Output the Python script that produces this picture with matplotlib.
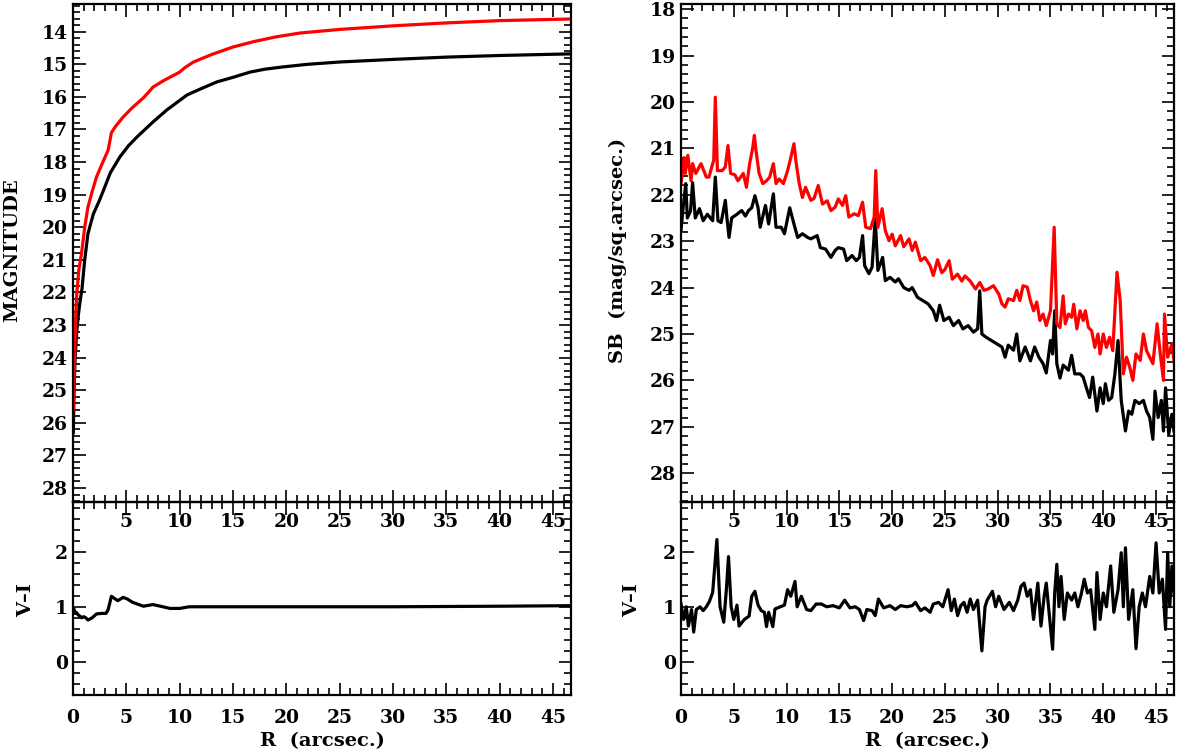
import matplotlib
matplotlib.use("Agg")
import matplotlib.pyplot as plt
from matplotlib.ticker import MultipleLocator, FuncFormatter

plt.rcParams["font.family"] = ["DejaVu Serif"]
plt.rcParams["font.weight"] = "bold"

# ── left: growth curves (cumulative magnitude) ───────────────────────────────
grow_r_v = [0.03, 0.1, 0.2, 0.35, 0.5, 0.65, 0.84, 1.1, 1.4, 1.9, 2.5, 3.0, 3.5,
            4.4, 5.2, 6.0, 7.5, 8.8, 10.7, 12.0, 13.5, 15.0, 16.6, 18.0, 19.7,
            22.0, 25.0, 30.0, 35.0, 40.0, 46.7]
grow_v = [26.3, 25.0, 24.0, 23.2, 22.7, 22.3, 21.9, 21.0, 20.2, 19.6, 19.16, 18.75,
          18.33, 17.84, 17.5, 17.23, 16.77, 16.40, 15.94, 15.75, 15.54, 15.40,
          15.24, 15.15, 15.08, 15.0, 14.93, 14.85, 14.78, 14.73, 14.68]

grow_r_i = [0.03, 0.1, 0.18, 0.25, 0.36, 0.55, 0.8, 1.1, 1.4, 1.8, 2.2, 2.8, 3.3,
            3.6, 4.0, 4.7, 5.5, 6.6, 7.1, 7.5, 8.5, 10.0, 10.5, 11.3, 13.0, 15.0,
            17.0, 19.0, 21.3, 25.0, 30.0, 35.0, 40.0, 46.7]
grow_i = [25.6, 24.6, 23.6, 22.8, 22.0, 21.3, 20.8, 20.0, 19.38, 18.9, 18.46,
          18.0, 17.63, 17.1, 16.9, 16.62, 16.35, 16.03, 15.85, 15.7, 15.5, 15.24,
          15.1, 14.93, 14.7, 14.47, 14.3, 14.16, 14.04, 13.93, 13.82, 13.73,
          13.66, 13.61]

colour_r_left = [0.1, 0.2, 0.3, 0.5, 0.65, 0.8, 1.0, 1.2, 1.4, 1.8, 2.2, 2.7, 3.1,
                 3.3, 3.6, 3.9, 4.2, 4.7, 5.1, 5.6, 6.6, 7.5, 8.2, 9.1, 10.0,
                 10.9, 15.0, 20.0, 30.0, 40.0, 46.7]
colour_left = [0.95, 0.88, 0.9, 0.85, 0.83, 0.8, 0.82, 0.8, 0.76, 0.8, 0.87, 0.88,
               0.88, 0.95, 1.19, 1.15, 1.11, 1.17, 1.14, 1.08, 1.01, 1.04, 1.01,
               0.97, 0.97, 1.0, 1.0, 1.0, 1.0, 1.01, 1.02]

# ── right: surface brightness profiles ───────────────────────────────────────
sb_r_i = [0.0, 0.3, 0.4, 0.65, 0.95, 1.1, 1.4, 1.9, 2.4, 2.65, 3.0, 3.1, 3.25,
          3.45, 3.9, 4.2, 4.45, 4.7, 5.1, 5.4, 5.9, 6.2, 6.5, 6.8, 6.95, 7.1,
          7.4, 7.75, 8.1, 8.4, 8.75, 9.0, 9.3, 9.7, 10.1, 10.4, 10.7, 10.9, 11.2,
          11.5, 11.8, 12.3, 12.6, 13.0, 13.4, 13.85, 14.2, 14.6, 14.9, 15.3, 15.6,
          15.9, 16.4, 16.8, 17.2, 17.5, 17.95, 18.3, 18.45, 18.65, 19.05, 19.35,
          19.7, 20.0, 20.3, 20.8, 21.1, 21.6, 21.9, 22.2, 22.7, 23.1, 23.6, 23.9,
          24.3, 24.7, 25.0, 25.4, 25.7, 26.2, 26.6, 26.9, 27.4, 27.9, 28.3, 28.7,
          29.1, 29.6, 30.1, 30.4, 30.7, 31.0, 31.5, 31.8, 32.1, 32.4, 32.8, 33.1,
          33.4, 33.7, 34.0, 34.3, 34.6, 35.0, 35.35, 35.6, 35.9, 36.2, 36.4, 36.7,
          37.0, 37.2, 37.5, 37.8, 38.1, 38.3, 38.6, 38.9, 39.2, 39.5, 39.7, 40.0,
          40.3, 40.6, 40.9, 41.3, 41.6, 41.9, 42.2, 42.5, 42.8, 43.1, 43.5, 43.8,
          44.1, 44.4, 44.7, 45.1, 45.4, 45.7, 45.8, 46.1, 46.5, 46.7]
sb_i = [21.76, 21.2, 21.54, 21.15, 21.7, 21.33, 21.54, 21.33, 21.62, 21.62, 21.33,
        21.26, 19.9, 21.48, 21.48, 21.4, 20.94, 21.54, 21.57, 21.7, 21.54, 21.84,
        21.33, 20.98, 20.72, 21.04, 21.54, 21.76, 21.7, 21.62, 21.33, 21.76,
        21.66, 21.76, 21.48, 21.2, 20.9, 21.3, 21.76, 22.06, 21.84, 22.12, 22.08,
        21.8, 22.2, 22.13, 22.34, 22.27, 22.09, 22.23, 22.02, 22.48, 22.41, 22.45,
        22.16, 22.7, 22.73, 22.48, 21.48, 22.7, 22.3, 22.77, 22.99, 22.85, 23.1,
        22.88, 23.12, 22.95, 23.2, 23.02, 23.42, 23.35, 23.53, 23.74, 23.4, 23.68,
        23.61, 23.42, 23.82, 23.71, 23.86, 23.75, 23.86, 24.03, 23.89, 24.06,
        24.03, 23.96, 24.14, 24.35, 24.42, 24.24, 24.28, 24.06, 24.28, 23.96,
        23.99, 24.28, 24.5, 24.31, 24.71, 24.57, 24.82, 24.5, 22.7, 24.78, 24.86,
        24.18, 24.78, 24.57, 24.64, 24.36, 24.89, 24.5, 24.71, 24.5, 24.86, 24.93,
        25.29, 25.0, 25.43, 25.0, 25.29, 25.07, 25.36, 23.67, 24.28, 25.86, 25.5,
        25.71, 26.0, 25.43, 25.57, 25.0, 25.36, 25.5, 25.64, 24.78, 25.43, 26.0,
        24.57, 25.5, 25.22, 25.57]

sb_r_v = [0.0, 0.2, 0.45, 0.6, 0.9, 1.1, 1.35, 1.75, 2.1, 2.5, 3.0, 3.25, 3.5, 3.8,
          4.2, 4.35, 4.55, 4.8, 5.3, 5.75, 6.1, 6.4, 6.7, 7.0, 7.3, 7.5, 8.0, 8.3,
          8.75, 9.0, 9.5, 9.8, 10.3, 10.7, 11.05, 11.5, 12.0, 12.3, 12.9, 13.2,
          13.7, 14.2, 14.6, 14.9, 15.4, 15.7, 16.2, 16.6, 16.9, 17.2, 17.4, 17.8,
          18.1, 18.4, 18.65, 19.1, 19.35, 19.8, 20.3, 20.6, 21.1, 21.6, 21.9, 22.4,
          22.9, 23.4, 23.9, 24.2, 24.5, 24.9, 25.4, 25.8, 26.3, 26.7, 27.2, 27.7,
          28.1, 28.3, 28.5, 28.9, 29.4, 29.9, 30.4, 30.7, 31.0, 31.5, 31.8, 32.1,
          32.6, 33.1, 33.5, 33.9, 34.3, 34.6, 35.0, 35.2, 35.4, 35.6, 35.9, 36.2,
          36.7, 37.0, 37.3, 37.8, 38.1, 38.4, 38.7, 39.0, 39.4, 39.7, 40.0, 40.2,
          40.5, 40.8, 41.1, 41.4, 41.7, 42.1, 42.4, 42.7, 43.0, 43.4, 43.8, 44.1,
          44.4, 44.7, 44.9, 45.2, 45.5, 45.7, 45.9, 46.2, 46.5, 46.7]
sb_v = [22.77, 22.28, 21.76, 22.5, 22.35, 21.74, 22.5, 22.3, 22.56, 22.42, 22.56,
        21.62, 22.56, 22.6, 22.12, 22.5, 22.92, 22.5, 22.42, 22.34, 22.46, 22.34,
        22.28, 22.02, 22.28, 22.7, 22.23, 22.63, 21.98, 22.7, 22.7, 22.84, 22.28,
        22.63, 22.92, 22.84, 22.92, 22.95, 22.88, 23.14, 23.17, 23.35, 23.2, 23.14,
        23.17, 23.42, 23.31, 23.42, 23.35, 22.88, 23.53, 23.7, 23.56, 22.52, 23.63,
        23.35, 23.85, 23.78, 23.88, 23.81, 24.0, 24.06, 24.0, 24.21, 24.28, 24.35,
        24.5, 24.71, 24.38, 24.71, 24.64, 24.82, 24.71, 24.89, 24.82, 24.96, 24.89,
        24.07, 25.0, 25.07, 25.14, 25.21, 25.28, 25.5, 25.24, 25.35, 25.0, 25.58,
        25.28, 25.58, 25.28, 25.5, 25.64, 25.84, 25.14, 25.43, 24.5, 25.64, 25.95,
        25.67, 25.78, 25.46, 25.86, 25.86, 25.93, 26.16, 26.37, 25.93, 26.66,
        26.16, 26.5, 26.07, 26.43, 26.37, 25.86, 25.14, 26.43, 27.09, 26.66, 26.73,
        26.43, 26.5, 26.43, 26.66, 26.8, 27.27, 26.23, 26.8, 26.43, 27.09, 26.16,
        27.16, 26.73, 27.09]

colour_r_right = [0.0, 0.25, 0.5, 0.7, 1.0, 1.2, 1.45, 1.8, 2.1, 2.4, 2.7, 3.0, 3.4,
                  3.7, 4.05, 4.3, 4.5, 4.75, 5.0, 5.3, 5.5, 6.0, 6.45, 6.7, 7.0, 7.3,
                  7.6, 7.9, 8.1, 8.3, 8.7, 8.9, 9.4, 9.8, 10.1, 10.4, 10.8, 11.0,
                  11.4, 11.9, 12.3, 12.8, 13.3, 13.8, 14.4, 15.0, 15.5, 16.0, 16.5,
                  16.9, 17.3, 17.6, 18.1, 18.4, 18.7, 19.2, 19.8, 20.3, 20.8, 21.4,
                  21.9, 22.2, 22.7, 23.1, 23.6, 23.9, 24.4, 24.8, 25.3, 25.6, 25.9,
                  26.2, 26.5, 26.8, 27.1, 27.4, 27.7, 28.1, 28.5, 28.8, 29.0, 29.5,
                  29.8, 30.1, 30.6, 31.1, 31.5, 31.9, 32.2, 32.5, 32.8, 33.1, 33.4,
                  33.8, 34.1, 34.4, 34.6, 35.2, 35.4, 35.6, 35.8, 36.0, 36.3, 36.6,
                  37.0, 37.3, 37.6, 37.9, 38.2, 38.5, 38.8, 39.2, 39.4, 39.7, 40.0,
                  40.3, 40.7, 41.0, 41.4, 41.7, 41.9, 42.1, 42.4, 42.8, 43.1, 43.4,
                  43.7, 44.0, 44.4, 44.7, 45.0, 45.3, 45.6, 45.9, 46.1, 46.3, 46.5,
                  46.7]
colour_right = [1.05, 0.77, 1.0, 0.65, 0.95, 0.54, 0.95, 1.0, 0.93, 1.0, 1.1, 1.26,
                2.22, 1.0, 0.72, 1.32, 1.91, 1.0, 0.77, 1.03, 0.65, 0.77, 0.83,
                1.19, 1.28, 1.03, 0.93, 0.9, 0.64, 0.9, 0.64, 0.96, 1.0, 1.03, 1.31,
                1.19, 1.46, 1.0, 1.19, 0.95, 0.93, 1.05, 1.05, 1.0, 1.02, 0.98,
                1.12, 0.98, 1.0, 0.95, 0.75, 0.95, 0.93, 0.84, 1.14, 0.98, 1.02,
                0.95, 1.02, 1.0, 1.02, 1.08, 0.93, 0.98, 0.9, 1.05, 1.08, 1.0, 1.31,
                0.93, 1.14, 0.84, 1.02, 1.08, 0.9, 1.14, 0.95, 1.12, 0.2, 1.0, 1.12,
                1.28, 1.0, 1.19, 0.95, 1.08, 0.93, 1.12, 1.37, 1.43, 1.19, 1.31,
                0.77, 1.43, 0.65, 1.19, 1.43, 0.23, 1.25, 1.77, 1.0, 1.55, 0.77,
                1.25, 1.12, 1.25, 1.0, 1.22, 1.5, 1.25, 1.31, 0.59, 1.62, 0.77,
                1.25, 1.0, 1.74, 0.9, 1.31, 1.98, 1.0, 2.07, 0.77, 1.31, 0.24, 1.0,
                1.25, 1.0, 1.55, 1.25, 2.16, 1.25, 1.5, 0.59, 1.98, 1.0, 1.74, 1.25]

RED = "#ff0000"
LW = 2.3
FS = 13.5    # tick labels
FS_LAB = 14  # axis titles

W, H = 1177, 753
fig = plt.figure(figsize=(W / 100, H / 100), dpi=100)


def px_box(x0, x1, y_top, y_bot):
    return [x0 / W, 1 - y_bot / H, (x1 - x0) / W, (y_bot - y_top) / H]


def style(ax, ymaj):
    ax.set_xlim(0, 46.7)
    ax.xaxis.set_major_locator(MultipleLocator(5))
    ax.xaxis.set_minor_locator(MultipleLocator(1))
    ax.yaxis.set_major_locator(MultipleLocator(ymaj))
    ax.yaxis.set_minor_locator(MultipleLocator(0.2))
    ax.tick_params(which="both", direction="in", top=True, right=True,
                   width=1.2, labelsize=FS)
    ax.tick_params(which="major", length=9)
    ax.tick_params(which="minor", length=5)
    for sp in ax.spines.values():
        sp.set_linewidth(1.6)


no_zero = FuncFormatter(lambda v, p: "" if abs(v) < 1e-6 else f"{v:g}")

panels = [
    # x0, x1, top-panel ylim, ylabel, label x
    (73, 571, (28.43, 13.15), "MAGNITUDE", 12),
    (681, 1174, (28.62, 17.89), "SB  (mag/sq.arcsec.)", 618),
]

for k, (x0, x1, ylim, ylab, ylab_x) in enumerate(panels):
    top = fig.add_axes(px_box(x0, x1, 4, 502))
    bot = fig.add_axes(px_box(x0, x1, 502, 695))

    if k == 0:
        top.plot(grow_r_v, grow_v, color="black", lw=LW)
        top.plot(grow_r_i, grow_i, color=RED, lw=LW)
        bot.plot(colour_r_left, colour_left, color="black", lw=LW)
    else:
        top.plot(sb_r_v, sb_v, color="black", lw=LW)
        top.plot(sb_r_i, sb_i, color=RED, lw=LW)
        bot.plot(colour_r_right, colour_right, color="black", lw=LW)

    top.set_ylim(*ylim)
    bot.set_ylim(-0.6, 2.9)
    style(top, 1)
    style(bot, 1)

    # tick labels of the top panel sit just under the shared line
    top.xaxis.set_major_formatter(no_zero)
    top.tick_params(axis="x", pad=8)
    bot.tick_params(axis="x", pad=10)
    top.set_zorder(3)
    top.patch.set_alpha(0)

    bot.set_xlabel("R  (arcsec.)", fontsize=FS_LAB, fontweight="bold", labelpad=4)
    fig.text(ylab_x / W, 1 - 250 / H, ylab, rotation=90, ha="center", va="center",
             fontsize=FS_LAB, fontweight="bold")
    fig.text((ylab_x + 14) / W, 1 - 600 / H, "V–I", rotation=90, ha="center",
             va="center", fontsize=FS_LAB, fontweight="bold")

fig.savefig("out.png", dpi=100)
